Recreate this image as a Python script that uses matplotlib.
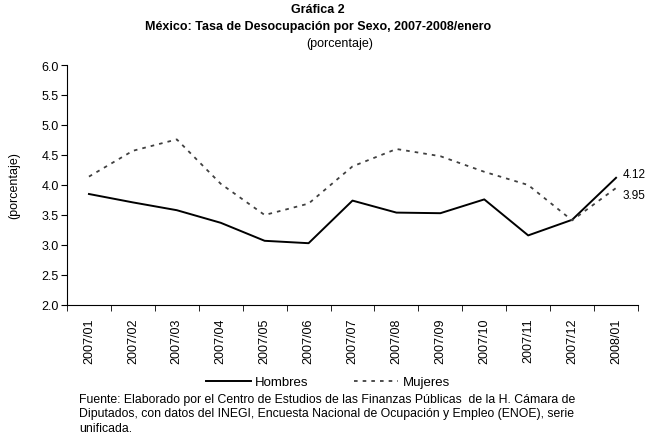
import numpy as np
import matplotlib
matplotlib.use('Agg')
import matplotlib.pyplot as plt

plt.rcParams['font.family'] = ['Liberation Sans', 'DejaVu Sans']

meses = ['2007/01', '2007/02', '2007/03', '2007/04', '2007/05', '2007/06', '2007/07',
         '2007/08', '2007/09', '2007/10', '2007/11', '2007/12', '2008/01']
hombres = [3.85, 3.71, 3.58, 3.37, 3.07, 3.03, 3.74, 3.54, 3.53, 3.76, 3.16, 3.42, 4.12]
mujeres = [4.14, 4.57, 4.76, 4.02, 3.50, 3.69, 4.31, 4.60, 4.48, 4.22, 4.00, 3.41, 3.95]
yticks = [2.0, 2.5, 3.0, 3.5, 4.0, 4.5, 5.0, 5.5, 6.0]

W, H = 658, 435
fig = plt.figure(figsize=(W / 100, H / 100), dpi=100, facecolor='white')
ax = fig.add_axes([67 / W, 1 - 306 / H, 571 / W, 240 / H])

x = np.arange(len(meses))
ax.plot(x, hombres, color='black', lw=1.4, label='Hombres')
ax.plot(x, mujeres, color='#404040', lw=1.3, dashes=(2, 2.8), label='Mujeres')

# etiquetas del ultimo dato
ax.annotate(f'{hombres[-1]:.2f}', (x[-1], hombres[-1]), xytext=(5, 3),
            textcoords='offset points', fontsize=8.5, va='center')
ax.annotate(f'{mujeres[-1]:.2f}', (x[-1], mujeres[-1]), xytext=(5, -5),
            textcoords='offset points', fontsize=8.5, va='center')

ax.set_xlim(-0.5, len(meses) - 0.5)
ax.set_ylim(2.0, 6.0)
ax.set_yticks(yticks)
ax.set_yticklabels([f'{v:.1f}' for v in yticks], fontsize=9)
ax.set_xticks(x)
ax.set_xticklabels(meses, rotation=90, fontsize=9)
ax.set_xticks(np.arange(len(meses) + 1) - 0.5, minor=True)
ax.tick_params(axis='x', which='major', length=0, pad=9)
ax.tick_params(axis='x', which='minor', length=4, direction='out')
ax.tick_params(axis='y', length=4, direction='out', pad=2)
for s in ['top', 'right']:
    ax.spines[s].set_visible(False)
ax.spines['left'].set_linewidth(0.8)
ax.spines['bottom'].set_linewidth(0.8)

fig.text(14 / W, 1 - 186 / H, '(porcentaje)', rotation=90, ha='center', va='center', fontsize=9)

fig.text(318 / W, 1 - 10 / H, 'Gráfica 2', ha='center', va='center', fontsize=9, fontweight='bold')
fig.text(318 / W, 1 - 27 / H, 'México: Tasa de Desocupación por Sexo, 2007-2008/enero',
         ha='center', va='center', fontsize=9, fontweight='bold')
fig.text(340 / W, 1 - 44 / H, '(porcentaje)', ha='center', va='center', fontsize=9)

fig.legend(loc='center', bbox_to_anchor=(328 / W, 1 - 383 / H), ncol=2, frameon=False,
           fontsize=9.5, handlelength=3.4, columnspacing=3.4, handletextpad=0.3)

fuente = ['Fuente: Elaborado por el Centro de Estudios de las Finanzas Públicas  de la H. Cámara de',
          'Diputados, con datos del INEGI, Encuesta Nacional de Ocupación y Empleo (ENOE), serie',
          'unificada.']
for i, linea in enumerate(fuente):
    fig.text(79 / W, 1 - (400 + 14.5 * i) / H, linea, ha='left', va='center', fontsize=8.8)

fig.savefig('out.png', dpi=100, facecolor='white')
